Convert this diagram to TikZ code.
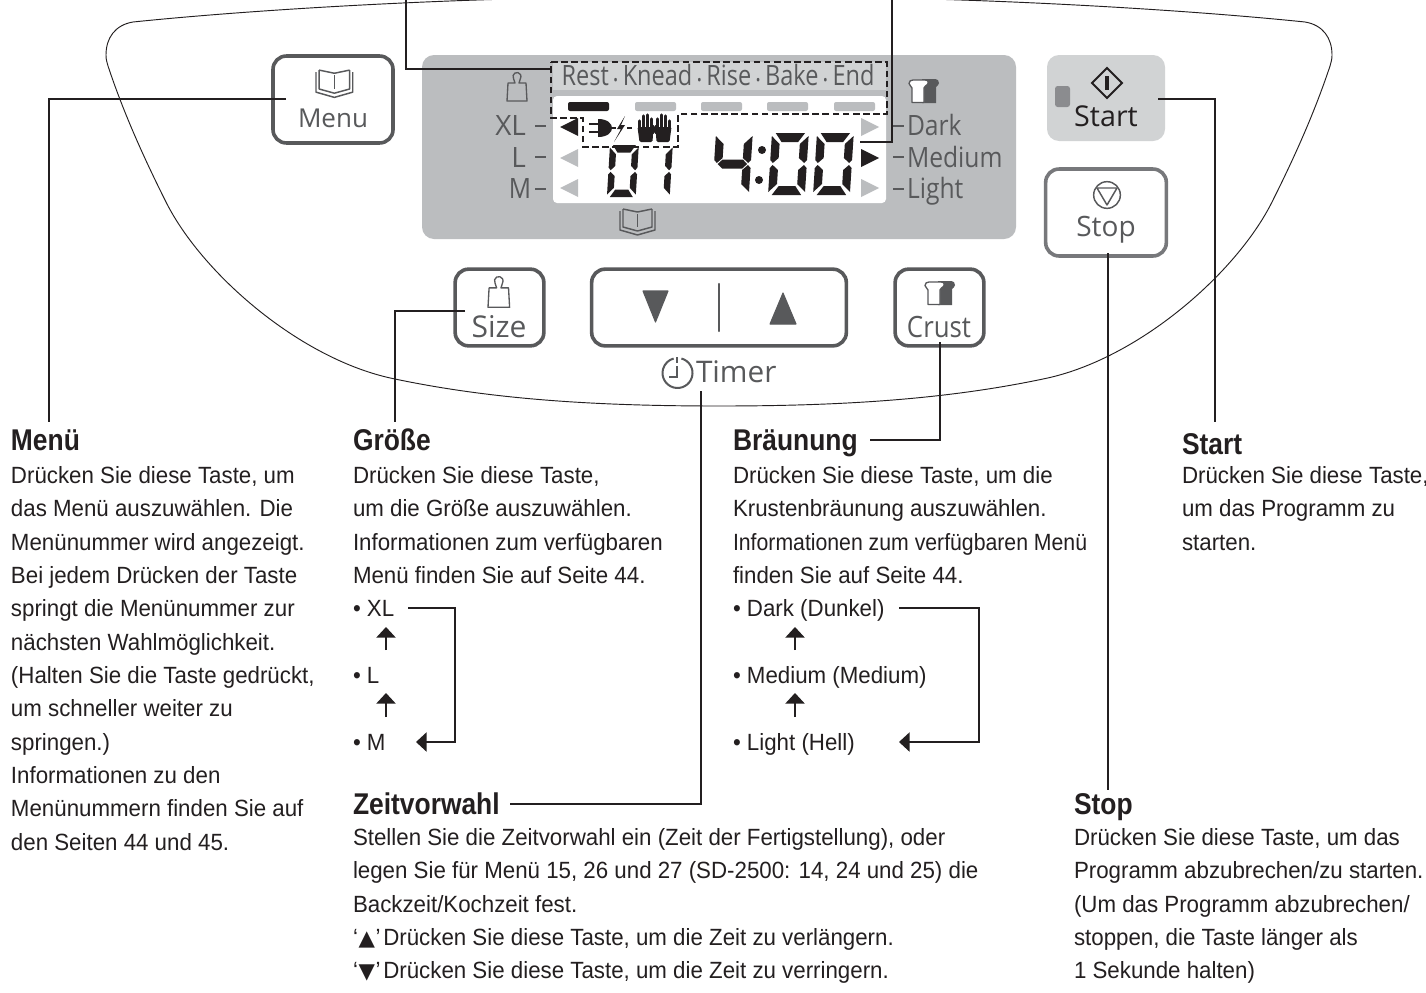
\documentclass[tikz,border=0pt]{standalone}
\usepackage{fontspec}
\setmainfont{Liberation Sans}
\newfontfamily\bodyf[FakeStretch=.95]{Liberation Sans}
\newfontfamily\bodyn[FakeStretch=.905]{Liberation Sans}
\newfontfamily\headf[FakeStretch=.88]{Liberation Sans Bold}
\newfontfamily\uif{Open Sans}
\newfontfamily\uin[FakeStretch=.88]{Open Sans}
\newfontfamily\uit[FakeStretch=.84]{Open Sans}
\newfontfamily\symf{DejaVu Sans}
\usetikzlibrary{arrows.meta}
\definecolor{ink}{HTML}{231F20}
\definecolor{uigray}{HTML}{58595B}
\definecolor{panel}{HTML}{BBBDBF}
\definecolor{strip}{HTML}{D1D3D4}
\definecolor{stopgray}{HTML}{77787B}
\newcommand{\firstline}{\rule{0pt}{13pt}}
\newcommand{\uisize}[1]{\fontsize{#1}{#1}\selectfont}
% seven-segment pieces, local box 40 x 62
\newcommand{\sgA}{\fill (4,0)--(36,0)--(29,9)--(11,9)--cycle;}
\newcommand{\sgB}{\fill (40,3)--(40,27)--(37,30)--(31,25)--(31,11)--cycle;}
\newcommand{\sgC}{\fill (40,35)--(40,59)--(31,51)--(31,37)--(37,32)--cycle;}
\newcommand{\sgD}{\fill (4,62)--(11,53)--(29,53)--(36,62)--cycle;}
\newcommand{\sgE}{\fill (0,35)--(3,32)--(9,37)--(9,51)--(0,59)--cycle;}
\newcommand{\sgF}{\fill (0,3)--(9,11)--(9,25)--(3,30)--(0,27)--cycle;}
\newcommand{\sgG}{\fill (4,31)--(9,26.5)--(31,26.5)--(36,31)--(31,35.5)--(9,35.5)--cycle;}
\newcommand{\digzero}{\sgA\sgB\sgC\sgD\sgE\sgF}
\newcommand{\digone}{\sgB\sgC}
\newcommand{\digfour}{\sgF\sgB\sgG\sgC}
% icons
\newcommand{\bookicon}[3]{\begin{scope}[shift={(#1,#2)},xscale=#3,yscale=#3,draw=uigray,line width=1.1pt,line join=round]
 \draw (3,2)--(3,20)--(17.5,24)--(32,20)--(32,2);
 \draw (3,2)--(17.5,5)--(32,2);
 \draw (0,4)--(0,23)--(17.5,28)--(35,23)--(35,4);
 \draw[line width=.8pt] (17.5,7)--(17.5,20);
 \end{scope}}
\newcommand{\weighticon}[3]{\begin{scope}[shift={(#1,#2)},xscale=#3,yscale=#3,draw=uigray,line width=1pt,line join=round]
 \draw (0,29)--(1,11)--(8,11)--(6.5,6.5) arc[start angle=210,end angle=-30,radius=3pt]--(12,11)--(19,11)--(20,29)--cycle;
 \end{scope}}
\newcommand{\toasticon}[3]{\begin{scope}[shift={(#1,#2)},xscale=#3,yscale=#3,line join=round]
 \fill[uigray] (14,0)--(26,0)..controls (30,0) and (31,2) .. (31,4)..controls (31,6) and (29,7) .. (28,8)--(28,24)--(14,24)--cycle;
 \fill[white,draw=uigray,line width=1pt] (5,1)--(17,1)..controls (20,1) and (21,3) .. (19.5,5.5)..controls (18.5,7) and (16,7) .. (16,9)--(16,23.5)--(4,23.5)--(4,9)..controls (4,7) and (1,7) .. (1,4.5)..controls (1,2) and (3,1) .. (5,1)--cycle;
 \end{scope}}
\newcommand{\handicon}[3]{\begin{scope}[shift={(#1,#2)},xscale=#3]
 \fill[ink,rounded corners=1pt] (-8,12)--(8,12)--(7,27)--(-6,27)--cycle;
 \foreach \fx/\ft in {-6/6,-2/1,2/0,6/4}{\draw[ink,line width=2.4pt,line cap=round] (\fx,14)--(\fx,\ft);}
 \draw[ink,line width=2.2pt,line cap=round] (7,18)--(11,11);
 \end{scope}}
\tikzset{
 x=.75pt,y=-.75pt,
 btn/.style={draw=uigray,line width=2.7pt,rounded corners=10pt,fill=white},
 leader/.style={draw=ink,line width=1.5pt},
 cycarrow/.style={draw=ink,line width=1.1pt,-{Triangle[length=8pt,width=14.5pt]}},
 outline/.style={draw=ink,line width=.7pt},
 bodytext/.style={anchor=north west,inner sep=0pt,outer sep=0pt,align=left,text=ink,font=\bodyf\fontsize{17.6}{25}\selectfont},
 headtext/.style={anchor=base west,inner sep=0pt,outer sep=0pt,text=ink,font=\headf\fontsize{22.5}{24}\selectfont},
 uilabel/.style={anchor=base,inner sep=0pt,outer sep=0pt,text=uigray},
 tri/.style={fill=panel},
 tridark/.style={fill=ink},
}
\begin{document}
\begin{tikzpicture}
\useasboundingbox (0,0) rectangle (1426,992);
\fill[white] (0,0) rectangle (1426,992);
% housing outline
\draw[outline] (510,-1) .. controls (400,2) and (250,10) .. (133,22) .. controls (115,25) and (106,38) .. (106,55) .. controls (106,60) and (107,62) .. (108,66) .. controls (122,108) and (140,150) .. (165,200) .. controls (200,272) and (300,360) .. (395,379) .. controls (495,400) and (600,406) .. (719,406) .. controls (838,406) and (943,400) .. (1043,379) .. controls (1138,360) and (1238,272) .. (1273,200) .. controls (1298,150) and (1316,108) .. (1330,66) .. controls (1331,62) and (1332,60) .. (1332,55) .. controls (1332,38) and (1323,25) .. (1305,22) .. controls (1188,10) and (1038,2) .. (928,-1);
% display
\fill[panel,rounded corners=9pt] (422,55) rectangle (1016,239) ;
\fill[strip] (553,62) rectangle (886,90);
\fill[white,rounded corners=3pt] (553,96) rectangle (886,203);
\node[uilabel,font=\uit\uisize{21}] (phases) at (718,85) {Rest\,{\fontsize{11}{11}\selectfont•}\,Knead\,{\fontsize{11}{11}\selectfont•}\,Rise\,{\fontsize{11}{11}\selectfont•}\,Bake\,{\fontsize{11}{11}\selectfont•}\,End};
% progress
\fill[ink,rounded corners=1.5pt] (568,102) rectangle (609,111);
\foreach \bx in {635,701,767,834}{\fill[panel,rounded corners=1.5pt] (\bx,102) rectangle (\bx+41,111);}
% triangles
\fill[tridark] (560,127)--(578,118)--(578,136)--cycle;
\fill[tri] (560,158)--(578,149)--(578,167)--cycle;
\fill[tri] (560,188)--(578,179)--(578,197)--cycle;
\fill[tri] (879,127)--(861,118)--(861,136)--cycle;
\fill[tridark] (879,158)--(861,149)--(861,167)--cycle;
\fill[tri] (879,188)--(861,179)--(861,197)--cycle;
% size labels
\node[uilabel,font=\uif\uisize{21},anchor=base east] (xl) at (526,135) {XL};
\node[uilabel,font=\uif\uisize{21},anchor=base east] (ll) at (526,167) {L};
\node[uilabel,font=\uin\uisize{21},anchor=base east] (mm) at (531,198) {M};
\foreach \dy in {126,157,189}{\draw[uigray,line width=1.6pt] (535,\dy)--(546,\dy); \draw[uigray,line width=1.6pt] (893,\dy)--(904,\dy);}
\node[uilabel,font=\uin\uisize{21},anchor=base west] (dark) at (907,135) {Dark};
\node[uilabel,font=\uin\uisize{21},anchor=base west] (medium) at (907,167) {Medium};
\node[uilabel,font=\uin\uisize{21},anchor=base west] (light) at (907,198) {Light};
% digits
\begin{scope}[fill=ink]
\begin{scope}[shift={(610,145)},xscale=.72,yscale=.84,xslant=.07]\digzero\end{scope}
\begin{scope}[shift={(644,145)},xscale=.72,yscale=.84,xslant=.07]\digone\end{scope}
\begin{scope}[shift={(716,133)},xscale=.92,yscale=1,xslant=.07]\digfour\end{scope}
\begin{scope}[shift={(772,133)},xscale=.92,yscale=1,xslant=.07]\digzero\end{scope}
\begin{scope}[shift={(817,133)},xscale=.92,yscale=1,xslant=.07]\digzero\end{scope}
\fill (762,150) circle[radius=3pt];
\fill (759,180) circle[radius=3pt];
\end{scope}
% error icons
\fill[ink] (598,119) .. controls (608,119) and (612,124) .. (612,128) .. controls (612,132) and (608,137) .. (598,137) -- cycle;
\draw[ink,line width=1.6pt] (589,124)--(598,124) (589,132)--(598,132) (612,128)--(616,128);
\fill[ink] (625,116)--(617,129)--(621,129)--(614,142)--(625,125)--(621,125)--cycle;
\draw[ink,line width=1.6pt] (627,128)--(632,128);
\handicon{645.5}{115}{1}
\handicon{663.5}{115}{-1}
% dashed frame
\draw[ink,line width=1.3pt,dash pattern=on 5pt off 2.6pt] (551,62)--(887,62)--(887,114)--(678,114)--(678,147)--(583,147)--(583,118)--(551,118)--cycle;
% panel icons
\weighticon{507}{72}{1}
\bookicon{620}{207}{1}
\toasticon{908}{79}{1}
% buttons
\node[btn,minimum width=90pt,minimum height=65.2pt] (menu) at (333,99.5) {};
\bookicon{316}{68}{1.05}
\node[uilabel,font=\uif\uisize{19.5}] (menutxt) at (333,127) {Menu};
\node[rounded corners=9pt,fill=strip,minimum width=88.5pt,minimum height=64.5pt,inner sep=0pt] (start) at (1106,98) {};
\fill[stopgray!85,rounded corners=2pt] (1055,86) rectangle (1070,107);
\draw[ink,line width=1.4pt,line join=miter] (1107,68)--(1122,83)--(1107,98)--(1092,83)--cycle;
\draw[ink,line width=2.8pt] (1107,76)--(1107,90);
\node[uilabel,font=\uif\uisize{21.5},text=ink] (starttxt) at (1106,126) {Start};
\node[btn,draw=stopgray,minimum width=90.5pt,minimum height=65.2pt] (stop) at (1106,212.5) {};
\draw[uigray,line width=1.1pt] (1107,195) circle[radius=10pt];
\draw[uigray,line width=1.1pt,line join=round] (1097,188)--(1117,188)--(1107,205)--cycle;
\node[uilabel,font=\uif\uisize{21}] (stoptxt) at (1106,236) {Stop};
\node[btn,minimum width=66.5pt,minimum height=57.5pt] (size) at (499.5,307.5) {};
\weighticon{488}{276}{1.08}
\node[uilabel,font=\uif\uisize{22.5}] (sizetxt) at (499,337) {Size};
\node[btn,minimum width=191pt,minimum height=57.5pt] (updown) at (719,307.5) {};
\fill[uigray,draw=uigray,line width=.8pt,line join=round] (643,291)--(668,291)--(655.5,322)--cycle;
\draw[uigray,line width=1.6pt,line cap=round] (719,284)--(719,331);
\fill[uigray,draw=uigray,line width=.8pt,line join=round] (770,324)--(796,324)--(783,293)--cycle;
\node[btn,minimum width=66.5pt,minimum height=57.5pt] (crust) at (939.5,307.5) {};
\toasticon{924}{281}{1}
\node[uilabel,font=\uin\uisize{22}] (crusttxt) at (939,337) {Crust};
% timer
\draw[uigray,line width=1.5pt] (681.4,358.5) arc[start angle=75,end angle=-255,radius=11.25pt];
\draw[uigray,line width=1.5pt] (677,357)--(677,363) (677,366)--(677,377)--(669,377);
\node[uilabel,font=\uif\uisize{22.3},anchor=base west] (timer) at (696,382) {Timer};
% leader end points
\coordinate (menuend) at (286,99);
\coordinate (menubend) at (49,99);
\coordinate (menufoot) at (49,422);
\coordinate (sizeend) at (465,311);
\coordinate (sizebend) at (395,311);
\coordinate (sizefoot) at (395,422);
\coordinate (crustend) at (940,342);
\coordinate (crustbend) at (940,440);
\coordinate (crustfoot) at (870,440);
\coordinate (timerend) at (701,391);
\coordinate (timerbend) at (701,804);
\coordinate (timerfoot) at (510,804);
\coordinate (stopend) at (1108,253);
\coordinate (stopfoot) at (1108,790);
\coordinate (startend) at (1158,99);
\coordinate (startbend) at (1215,99);
\coordinate (startfoot) at (1215,422);
\coordinate (phtop) at (405.5,-1);
\coordinate (phbend) at (405.5,69);
\coordinate (phend) at (551,69);
\coordinate (errtop) at (892,-1);
\coordinate (errbend) at (892,142);
\coordinate (errend) at (860,142);
\draw[leader] (menuend)--(menubend)--(menufoot);
\draw[leader] (sizeend)--(sizebend)--(sizefoot);
\draw[leader] (crustend)--(crustbend)--(crustfoot);
\draw[leader] (timerend)--(timerbend)--(timerfoot);
\draw[leader] (stopend)--(stopfoot);
\draw[leader] (startend)--(startbend)--(startfoot);
\draw[leader] (phtop)--(phbend)--(phend);
\draw[leader] (errtop)--(errbend)--(errend);
% texts
\node[headtext] (h1) at (11,450) {Menü};
\node[bodytext] (b1) at (11,466) {\firstline Drücken Sie diese Taste, um\\das Menü auszuwählen. Die\\Menünummer wird angezeigt.\\Bei jedem Drücken der Taste\\springt die Menünummer zur\\nächsten Wahlmöglichkeit.\\(Halten Sie die Taste gedrückt,\\um schneller weiter zu\\springen.)\\Informationen zu den\\Menünummern finden Sie auf\\den Seiten 44 und 45.};
\node[headtext] (h2) at (353,450) {Größe};
\node[bodytext] (b2) at (353,466) {\firstline Drücken Sie diese Taste,\\um die Größe auszuwählen.\\Informationen zum verfügbaren\\Menü finden Sie auf Seite 44.\\• XL\\[25pt]• L\\[25pt]• M};
\node[headtext] (h3) at (733,450) {Bräunung};
\node[bodytext] (b3) at (733,466) {\firstline Drücken Sie diese Taste, um die\\Krustenbräunung auszuwählen.\\{\bodyn Informationen zum verfügbaren Menü}\\finden Sie auf Seite 44.\\• Dark (Dunkel)\\[25pt]• Medium (Medium)\\[25pt]• Light (Hell)};
\node[headtext] (h4) at (1182,454) {Start};
\node[bodytext] (b4) at (1182,466) {\firstline Drücken Sie diese Taste,\\um das Programm zu\\starten.};
\node[headtext] (h5) at (353,814) {Zeitvorwahl};
\node[bodytext] (b5) at (353,828) {\firstline Stellen Sie die Zeitvorwahl ein (Zeit der Fertigstellung), oder\\legen Sie für Menü 15, 26 und 27 (SD-2500: 14, 24 und 25) die\\Backzeit/Kochzeit fest.\\‘\kern.5pt{\symf\fontsize{16}{16}\selectfont ▲}\kern.5pt’\kern2pt Drücken Sie diese Taste, um die Zeit zu verlängern.\\‘\kern.5pt{\symf\fontsize{16}{16}\selectfont ▼}\kern.5pt’\kern2pt Drücken Sie diese Taste, um die Zeit zu verringern.};
\node[headtext] (h6) at (1074,814) {Stop};
\node[bodytext] (b6) at (1074,828) {\firstline Drücken Sie diese Taste, um das\\Programm abzubrechen/zu starten.\\(Um das Programm abzubrechen/\\stoppen, die Taste länger als\\1 Sekunde halten)};
% cycle diagrams
\coordinate (sa) at (408,608); \coordinate (sb) at (455,608); \coordinate (sc) at (455,742); \coordinate (sd) at (416,742);
\draw[cycarrow] (sa)--(sb)--(sc)--(sd);
\coordinate (c1) at (386,650); \coordinate (c2) at (386,627); \coordinate (c3) at (386,717); \coordinate (c4) at (386,693);
\draw[cycarrow] (c1)--(c2);
\draw[cycarrow] (c3)--(c4);
\coordinate (da) at (899,608); \coordinate (db) at (979,608); \coordinate (dc) at (979,742); \coordinate (dd) at (899,742);
\draw[cycarrow] (da)--(db)--(dc)--(dd);
\coordinate (e1) at (795,650); \coordinate (e2) at (795,627); \coordinate (e3) at (795,717); \coordinate (e4) at (795,693);
\draw[cycarrow] (e1)--(e2);
\draw[cycarrow] (e3)--(e4);
\end{tikzpicture}
\end{document}
